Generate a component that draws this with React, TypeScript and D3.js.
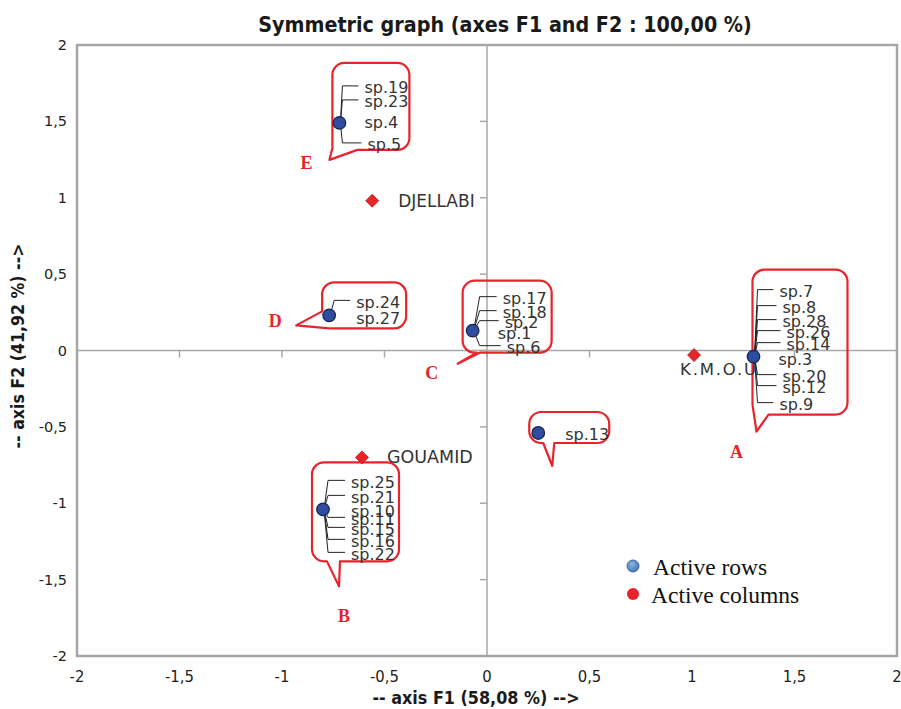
import React from "react";
import * as d3 from "d3";

// ---- data ----
const xTicks = [-2, -1.5, -1, -0.5, 0, 0.5, 1, 1.5, 2];
const yTicks = [-2, -1.5, -1, -0.5, 0, 0.5, 1, 1.5, 2];

const rowGroupLetters = ["E", "D", "C", "A", "", "B"];
const rowX = [-0.72, -0.77, -0.07, 1.3, 0.25, -0.8];
const rowY = [1.49, 0.23, 0.13, -0.04, -0.54, -1.04];
const rowLabels = [
  ["sp.19", "sp.23", "sp.4", "sp.5"],
  ["sp.24", "sp.27"],
  ["sp.17", "sp.18", "sp.2", "sp.1", "sp.6"],
  ["sp.7", "sp.8", "sp.28", "sp.26", "sp.14", "sp.3", "sp.20", "sp.12", "sp.9"],
  ["sp.13"],
  ["sp.25", "sp.21", "sp.10", "sp.11", "sp.15", "sp.16", "sp.22"],
];

const colNames = ["DJELLABI", "K.M.O.U", "GOUAMID"];
const colX = [-0.56, 1.01, -0.61];
const colY = [0.98, -0.03, -0.7];

// ---- layout (pixel offsets relative to each point) ----
// label offsets: [dx, dy, hasLeader]
const labelLayout: number[][][] = [
  [[25, -35, 1], [25, -21, 1], [25, 0, 0], [28, 22, 1]],
  [[27, -13, 1], [27, 3, 0]],
  [[30, -32, 1], [30, -18, 1], [32, -8, 1], [25, 3, 0], [34, 17, 1]],
  [[26, -65, 1], [29, -49, 1], [29, -35, 1], [33, -24, 1], [33, -12, 1], [25, 3, 0], [29, 20, 1], [29, 31, 1], [26, 48, 1]],
  [[27, 2, 0]],
  [[28, -27, 1], [28, -12, 1], [28, 2, 0], [28, 10, 1], [28, 20, 1], [28, 32, 1], [28, 45, 1]],
];
const leaderX = [3, 5, 7, 4, 0, 5];
// bubble: box [x0,y0,x1,y1], tail type, params
type Bubble = { box: number[]; type: "bl" | "bottom"; a: number; b: number; tip: number[] };
const bubbleLayout: Bubble[] = [
  { box: [-7, -60, 70, 27], type: "bl", a: 25, b: -2, tip: [-10, 37] },
  { box: [-7, -33, 77, 13], type: "bl", a: 7, b: -17, tip: [-33, 10] },
  { box: [-10, -50, 79, 22], type: "bottom", a: 17, b: 2, tip: [-15, 33] },
  { box: [-1, -87, 94, 58], type: "bl", a: 16, b: -10, tip: [3, 75] },
  { box: [-9, -21, 71, 10], type: "bottom", a: 25, b: 2, tip: [14, 33] },
  { box: [-11, -47, 76, 52], type: "bottom", a: 28, b: 3, tip: [16, 77] },
];
const letterLayout = [[-33, 40], [-54, 6], [-41, 42], [-17, 95], [0, 0], [21, 107]];

const W = 901, H = 709;
const plot = { left: 77, right: 897, top: 45, bottom: 656 };

function bubblePath(cx: number, cy: number, bb: Bubble) {
  const r = 12;
  const x0 = cx + bb.box[0], y0 = cy + bb.box[1], x1 = cx + bb.box[2], y1 = cy + bb.box[3];
  const tx = cx + bb.tip[0], ty = cy + bb.tip[1];
  let p = `M${x0 + r},${y0} H${x1 - r} A${r},${r} 0 0 1 ${x1},${y0 + r} V${y1 - r} A${r},${r} 0 0 1 ${x1 - r},${y1}`;
  if (bb.type === "bl") {
    p += ` H${x0 + bb.a} L${tx},${ty} L${x0},${y1 + bb.b} V${y0 + r}`;
  } else {
    p += ` H${x0 + bb.a} L${tx},${ty} L${x0 + bb.b + r},${y1} H${x0 + r} A${r},${r} 0 0 1 ${x0},${y1 - r} V${y0 + r}`;
  }
  p += ` A${r},${r} 0 0 1 ${x0 + r},${y0} Z`;
  return p;
}

const fmt = (v: number) => String(v).replace(".", ",");

export default function App() {
  const x = d3.scaleLinear().domain([-2, 2]).range([plot.left, plot.right]);
  const y = d3.scaleLinear().domain([-2, 2]).range([plot.bottom, plot.top]);
  const x0 = x(0), y0 = y(0);
  const sans = "'DejaVu Sans', Verdana, sans-serif";
  const cond = "'DejaVu Sans Condensed', 'DejaVu Sans', sans-serif";
  const serif = "'Liberation Serif', 'Times New Roman', serif";
  const red = "#e8232a";

  return (
    <svg width={W} height={H} style={{ position: "absolute", left: 0, top: 0, background: "#fff" }}>
      <defs>
        <radialGradient id="lgBlue" cx="40%" cy="35%" r="70%">
          <stop offset="0%" stopColor="#8fb3dc" />
          <stop offset="100%" stopColor="#3f72b0" />
        </radialGradient>
      </defs>
      <rect width={W} height={H} fill="#fff" />
      {/* title */}
      <text x={505} y={32} textAnchor="middle" fontFamily={cond} fontWeight="bold" fontSize={21.3} fill="#1a1a1a">
        Symmetric graph (axes F1 and F2 : 100,00 %)
      </text>
      {/* inner axes */}
      <line x1={plot.left} x2={plot.right} y1={y0} y2={y0} stroke="#a8a8a8" strokeWidth={1.5} />
      <line x1={x0} x2={x0} y1={plot.top} y2={plot.bottom} stroke="#a8a8a8" strokeWidth={1.5} />
      {xTicks.map((t) => (
        <line key={"xt" + t} x1={x(t)} x2={x(t)} y1={y0} y2={y0 + 7} stroke="#a8a8a8" strokeWidth={1.5} />
      ))}
      {yTicks.map((t) => (
        <line key={"yt" + t} x1={x0 - 7} x2={x0} y1={y(t)} y2={y(t)} stroke="#a8a8a8" strokeWidth={1.5} />
      ))}
      {/* frame */}
      <rect x={plot.left} y={plot.top} width={plot.right - plot.left} height={plot.bottom - plot.top} fill="none" stroke="#a6a6a6" strokeWidth={2.5} />
      {/* tick labels */}
      {xTicks.map((t) => (
        <text key={"xl" + t} x={x(t)} y={682} textAnchor="middle" fontFamily={cond} fontSize={16.5} fill="#222">
          {fmt(t)}
        </text>
      ))}
      {yTicks.map((t) => (
        <text key={"yl" + t} x={67} y={y(t) + 5} textAnchor="end" fontFamily={sans} fontSize={14.5} fill="#222">
          {fmt(t)}
        </text>
      ))}
      {/* axis titles */}
      <text x={476} y={704} textAnchor="middle" fontFamily={cond} fontWeight="bold" fontSize={17.8} fill="#1a1a1a">
        -- axis F1 (58,08 %) --&gt;
      </text>
      <text transform={`translate(24,346) rotate(-90)`} textAnchor="middle" fontFamily={cond} fontWeight="bold" fontSize={17.6} fill="#1a1a1a">
        -- axis F2 (41,92 %) --&gt;
      </text>

      {/* bubbles */}
      {rowX.map((vx, i) => (
        <path key={"bub" + i} d={bubblePath(x(vx), y(rowY[i]), bubbleLayout[i])} fill="none" stroke={red} strokeWidth={2.2} strokeLinejoin="round" />
      ))}
      {/* leaders */}
      {rowX.map((vx, i) => {
        const cx = x(vx), cy = y(rowY[i]);
        return rowLabels[i].map((lab, j) => {
          const [dx, dy, has] = labelLayout[i][j];
          if (!has) return null;
          const ly = cy + dy - 2;
          return (
            <polyline key={"ld" + i + "-" + j} points={`${cx + 1},${cy} ${cx + leaderX[i]},${ly} ${cx + dx - 6},${ly}`} fill="none" stroke="#222" strokeWidth={1} />
          );
        });
      })}
      {/* column points */}
      {colX.map((vx, i) => {
        const cx = x(vx), cy = y(colY[i]);
        return (
          <path key={"col" + i} d={`M${cx},${cy - 6.5} L${cx + 6.5},${cy} L${cx},${cy + 6.5} L${cx - 6.5},${cy} Z`} fill="#e8262a" stroke="#b01818" strokeWidth={0.8} />
        );
      })}
      {/* row points */}
      {rowX.map((vx, i) => (
        <circle key={"row" + i} cx={x(vx)} cy={y(rowY[i])} r={6.3} fill="#2f4d9e" stroke="#15224f" strokeWidth={1.2} />
      ))}
      {/* labels */}
      {rowX.map((vx, i) => {
        const cx = x(vx), cy = y(rowY[i]);
        return rowLabels[i].map((lab, j) => {
          const [dx, dy] = labelLayout[i][j];
          return (
            <text key={"lb" + i + "-" + j} x={cx + dx} y={cy + dy + 5.5} fontFamily={sans} fontSize={16} fill="#333">
              {lab}
            </text>
          );
        });
      })}
      <text x={x(colX[0]) + 26} y={y(colY[0]) + 6} fontFamily={sans} fontSize={17} fill="#333">{colNames[0]}</text>
      <text x={x(colX[1]) - 14} y={y(colY[1]) + 20} fontFamily={sans} fontSize={16.5} letterSpacing={1.8} fill="#333">{colNames[1]}</text>
      <text x={x(colX[2]) + 25} y={y(colY[2]) + 6} fontFamily={sans} fontSize={17.5} fill="#333">{colNames[2]}</text>
      {/* group letters */}
      {rowX.map((vx, i) =>
        rowGroupLetters[i] ? (
          <text key={"lt" + i} x={x(vx) + letterLayout[i][0]} y={y(rowY[i]) + letterLayout[i][1] + 6} textAnchor="middle" fontFamily={serif} fontWeight="bold" fontSize={18} fill={red}>
            {rowGroupLetters[i]}
          </text>
        ) : null
      )}
      {/* legend */}
      <circle cx={633} cy={566} r={6} fill="url(#lgBlue)" stroke="#3a6aa5" strokeWidth={1} />
      <text x={653} y={575} fontFamily={serif} fontSize={23.5} fill="#111">Active rows</text>
      <circle cx={633} cy={594} r={6} fill="#e8232a" />
      <text x={651} y={603} fontFamily={serif} fontSize={23.5} fill="#111">Active columns</text>
    </svg>
  );
}
